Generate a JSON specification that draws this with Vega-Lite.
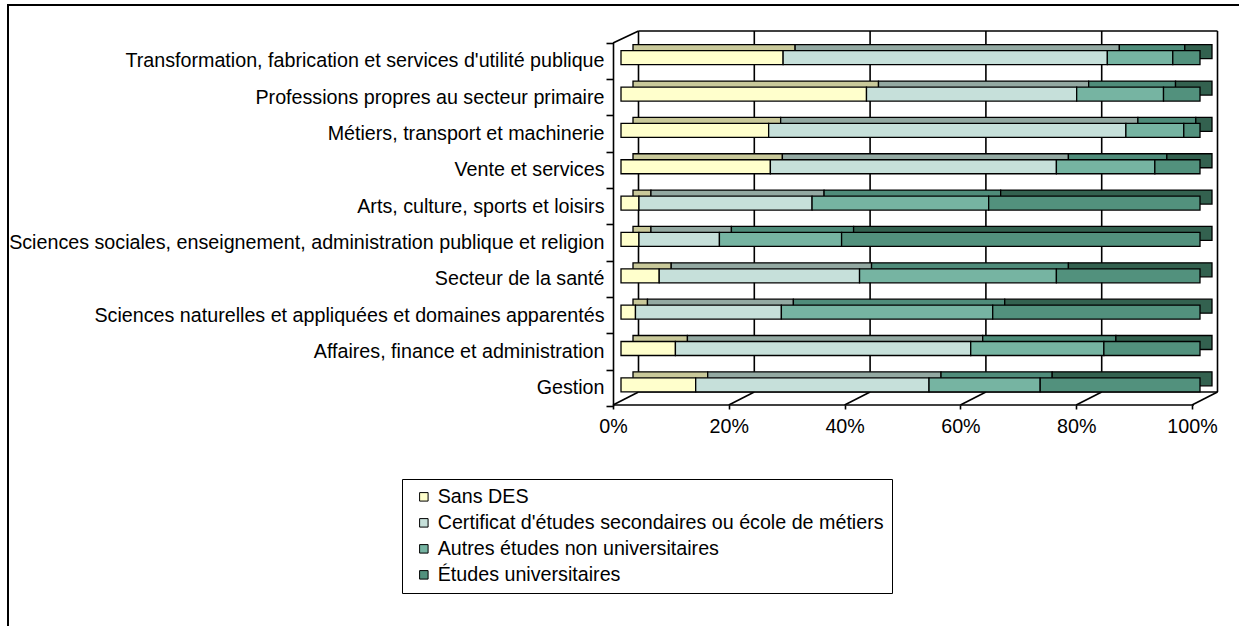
{
  "$schema": "https://vega.github.io/schema/vega-lite/v6.json",
  "width": 1235,
  "height": 625,
  "autosize": {"type": "none"},
  "padding": {"left": 8, "top": 5, "right": -4, "bottom": -4},
  "background": "white",
  "config": {"view": {"stroke": "black", "strokeWidth": 2}, "font": "Liberation Sans"},
  "datasets": {
    "grille": [{"g": 0}, {"g": 0.2}, {"g": 0.4}, {"g": 0.6}, {"g": 0.8}, {"g": 1}],
    "un": [{"k": 1}]
  },
  "data": {"values": [
    {"profession": "Transformation, fabrication et services d'utilité publique", "niveau": "Sans DES", "rang": 1, "pct": 28.0},
    {"profession": "Transformation, fabrication et services d'utilité publique", "niveau": "Certificat d'études secondaires ou école de métiers", "rang": 2, "pct": 56.0},
    {"profession": "Transformation, fabrication et services d'utilité publique", "niveau": "Autres études non universitaires", "rang": 3, "pct": 11.3},
    {"profession": "Transformation, fabrication et services d'utilité publique", "niveau": "Études universitaires", "rang": 4, "pct": 4.7},
    {"profession": "Professions propres au secteur primaire", "niveau": "Sans DES", "rang": 1, "pct": 42.4},
    {"profession": "Professions propres au secteur primaire", "niveau": "Certificat d'études secondaires ou école de métiers", "rang": 2, "pct": 36.3},
    {"profession": "Professions propres au secteur primaire", "niveau": "Autres études non universitaires", "rang": 3, "pct": 15.0},
    {"profession": "Professions propres au secteur primaire", "niveau": "Études universitaires", "rang": 4, "pct": 6.3},
    {"profession": "Métiers, transport et machinerie", "niveau": "Sans DES", "rang": 1, "pct": 25.5},
    {"profession": "Métiers, transport et machinerie", "niveau": "Certificat d'études secondaires ou école de métiers", "rang": 2, "pct": 61.7},
    {"profession": "Métiers, transport et machinerie", "niveau": "Autres études non universitaires", "rang": 3, "pct": 10.0},
    {"profession": "Métiers, transport et machinerie", "niveau": "Études universitaires", "rang": 4, "pct": 2.8},
    {"profession": "Vente et services", "niveau": "Sans DES", "rang": 1, "pct": 25.8},
    {"profession": "Vente et services", "niveau": "Certificat d'études secondaires ou école de métiers", "rang": 2, "pct": 49.4},
    {"profession": "Vente et services", "niveau": "Autres études non universitaires", "rang": 3, "pct": 17.0},
    {"profession": "Vente et services", "niveau": "Études universitaires", "rang": 4, "pct": 7.8},
    {"profession": "Arts, culture, sports et loisirs", "niveau": "Sans DES", "rang": 1, "pct": 3.1},
    {"profession": "Arts, culture, sports et loisirs", "niveau": "Certificat d'études secondaires ou école de métiers", "rang": 2, "pct": 29.9},
    {"profession": "Arts, culture, sports et loisirs", "niveau": "Autres études non universitaires", "rang": 3, "pct": 30.5},
    {"profession": "Arts, culture, sports et loisirs", "niveau": "Études universitaires", "rang": 4, "pct": 36.5},
    {"profession": "Sciences sociales, enseignement, administration publique et religion", "niveau": "Sans DES", "rang": 1, "pct": 3.1},
    {"profession": "Sciences sociales, enseignement, administration publique et religion", "niveau": "Certificat d'études secondaires ou école de métiers", "rang": 2, "pct": 13.9},
    {"profession": "Sciences sociales, enseignement, administration publique et religion", "niveau": "Autres études non universitaires", "rang": 3, "pct": 21.1},
    {"profession": "Sciences sociales, enseignement, administration publique et religion", "niveau": "Études universitaires", "rang": 4, "pct": 61.9},
    {"profession": "Secteur de la santé", "niveau": "Sans DES", "rang": 1, "pct": 6.6},
    {"profession": "Secteur de la santé", "niveau": "Certificat d'études secondaires ou école de métiers", "rang": 2, "pct": 34.6},
    {"profession": "Secteur de la santé", "niveau": "Autres études non universitaires", "rang": 3, "pct": 34.0},
    {"profession": "Secteur de la santé", "niveau": "Études universitaires", "rang": 4, "pct": 24.8},
    {"profession": "Sciences naturelles et appliquées et domaines apparentés", "niveau": "Sans DES", "rang": 1, "pct": 2.5},
    {"profession": "Sciences naturelles et appliquées et domaines apparentés", "niveau": "Certificat d'études secondaires ou école de métiers", "rang": 2, "pct": 25.2},
    {"profession": "Sciences naturelles et appliquées et domaines apparentés", "niveau": "Autres études non universitaires", "rang": 3, "pct": 36.5},
    {"profession": "Sciences naturelles et appliquées et domaines apparentés", "niveau": "Études universitaires", "rang": 4, "pct": 35.8},
    {"profession": "Affaires, finance et administration", "niveau": "Sans DES", "rang": 1, "pct": 9.4},
    {"profession": "Affaires, finance et administration", "niveau": "Certificat d'études secondaires ou école de métiers", "rang": 2, "pct": 51.0},
    {"profession": "Affaires, finance et administration", "niveau": "Autres études non universitaires", "rang": 3, "pct": 23.0},
    {"profession": "Affaires, finance et administration", "niveau": "Études universitaires", "rang": 4, "pct": 16.6},
    {"profession": "Gestion", "niveau": "Sans DES", "rang": 1, "pct": 12.9},
    {"profession": "Gestion", "niveau": "Certificat d'études secondaires ou école de métiers", "rang": 2, "pct": 40.3},
    {"profession": "Gestion", "niveau": "Autres études non universitaires", "rang": 3, "pct": 19.2},
    {"profession": "Gestion", "niveau": "Études universitaires", "rang": 4, "pct": 27.6}
  ]},
  "layer": [
    {
      "data": {"name": "grille"},
      "mark": {"type": "rule", "color": "black", "strokeWidth": 1.6, "xOffset": 17.5, "yOffset": -29.7, "y2Offset": 4.2},
      "encoding": {
        "x": {"field": "g", "type": "quantitative"},
        "y": {"datum": "Transformation, fabrication et services d'utilité publique"},
        "y2": {"datum": "Gestion"}
      }
    },
    {
      "data": {"name": "un"},
      "mark": {"type": "rule", "color": "black", "strokeWidth": 1.6, "xOffset": 17.5, "x2Offset": 17.5, "yOffset": -29.7},
      "encoding": {
        "x": {"datum": 0},
        "x2": {"datum": 1},
        "y": {"datum": "Transformation, fabrication et services d'utilité publique"}
      }
    },
    {
      "data": {"name": "un"},
      "mark": {"type": "rule", "color": "black", "strokeWidth": 1.6, "xOffset": 17.5, "x2Offset": 17.5, "yOffset": 4.2},
      "encoding": {
        "x": {"datum": 0},
        "x2": {"datum": 1},
        "y": {"datum": "Gestion"}
      }
    },
    {
      "data": {"name": "un"},
      "mark": {"type": "rule", "color": "black", "strokeWidth": 1.6, "xOffset": -8, "x2Offset": -6, "yOffset": 17.2},
      "encoding": {
        "x": {"datum": 0},
        "x2": {"datum": 1},
        "y": {"datum": "Gestion"}
      }
    },
    {
      "data": {"name": "grille"},
      "mark": {"type": "rule", "color": "black", "strokeWidth": 1.6, "xOffset": -8, "x2Offset": 17.5, "yOffset": 17.2, "y2Offset": 4.2},
      "encoding": {
        "x": {"field": "g", "type": "quantitative"},
        "x2": {"field": "g"},
        "y": {"datum": "Gestion"},
        "y2": {"datum": "Gestion"}
      }
    },
    {
      "data": {"name": "un"},
      "mark": {"type": "rule", "color": "black", "strokeWidth": 1.6, "xOffset": -8, "x2Offset": 17.5, "yOffset": -17.7, "y2Offset": -29.7},
      "encoding": {
        "x": {"datum": 0},
        "x2": {"datum": 0},
        "y": {"datum": "Transformation, fabrication et services d'utilité publique"},
        "y2": {"datum": "Transformation, fabrication et services d'utilité publique"}
      }
    },
    {
      "mark": {"type": "bar", "size": 14, "xOffset": 12, "x2Offset": 12, "yOffset": -9, "stroke": "black", "strokeWidth": 1.3},
      "encoding": {
        "y": {"field": "profession", "type": "nominal"},
        "x": {"field": "pct", "type": "quantitative", "stack": "normalize"},
        "order": {"field": "rang", "type": "quantitative"},
        "color": {
          "field": "niveau", "type": "nominal", "legend": null,
          "scale": {
            "domain": ["Sans DES", "Certificat d'études secondaires ou école de métiers", "Autres études non universitaires", "Études universitaires"],
            "range": ["#C9C99A", "#93A9A2", "#4F8C7A", "#33614F"]
          }
        }
      }
    },
    {
      "mark": {"type": "bar", "size": 14, "yOffset": -3, "stroke": "black", "strokeWidth": 1.3},
      "encoding": {
        "y": {
          "field": "profession", "type": "nominal",
          "scale": {
            "domain": [
              "Transformation, fabrication et services d'utilité publique",
              "Professions propres au secteur primaire",
              "Métiers, transport et machinerie",
              "Vente et services",
              "Arts, culture, sports et loisirs",
              "Sciences sociales, enseignement, administration publique et religion",
              "Secteur de la santé",
              "Sciences naturelles et appliquées et domaines apparentés",
              "Affaires, finance et administration",
              "Gestion"
            ],
            "range": [37.5, 401],
            "paddingInner": 0,
            "paddingOuter": 0
          },
          "axis": {
            "orient": "left", "offset": -605, "title": null, "tickBand": "extent",
            "tickSize": 7, "labelPadding": 2, "labelFontSize": 19.7, "labelFont": "Liberation Sans",
            "labelColor": "black", "domainColor": "black", "tickColor": "black",
            "domainWidth": 1.6, "tickWidth": 1.6, "labelLimit": 0, "grid": false
          }
        },
        "x": {
          "field": "pct", "type": "quantitative", "stack": "normalize",
          "scale": {"domain": [0, 1], "range": [613, 1192], "nice": false, "zero": false},
          "axis": {
            "orient": "bottom", "offset": -225, "title": null, "domain": false,
            "values": [0, 0.2, 0.4, 0.6, 0.8, 1], "format": ".0%",
            "tickSize": 4, "tickOffset": -8, "tickColor": "black", "tickWidth": 1.6,
            "labelPadding": 7, "labelFontSize": 19.7, "labelFont": "Liberation Sans",
            "labelColor": "black", "labelFlush": false, "labelOverlap": false, "grid": false
          }
        },
        "order": {"field": "rang", "type": "quantitative"},
        "color": {
          "field": "niveau", "type": "nominal",
          "scale": {
            "domain": ["Sans DES", "Certificat d'études secondaires ou école de métiers", "Autres études non universitaires", "Études universitaires"],
            "range": ["#FFFFCC", "#C6E0DA", "#76B4A2", "#52917D"]
          },
          "legend": {
            "orient": "none", "legendX": 394, "legendY": 474, "title": null,
            "strokeColor": "black", "fillColor": "white", "padding": 8,
            "symbolType": "square", "symbolSize": 72, "symbolStrokeColor": "black", "symbolStrokeWidth": 1,
            "symbolOffset": 4, "symbolOpacity": 1, "labelFontSize": 19.7, "labelFont": "Liberation Sans", "labelColor": "black",
            "rowPadding": 5, "labelOffset": 4, "labelLimit": 0
          }
        }
      }
    }
  ],
  "resolve": {"scale": {"color": "independent"}}
}
